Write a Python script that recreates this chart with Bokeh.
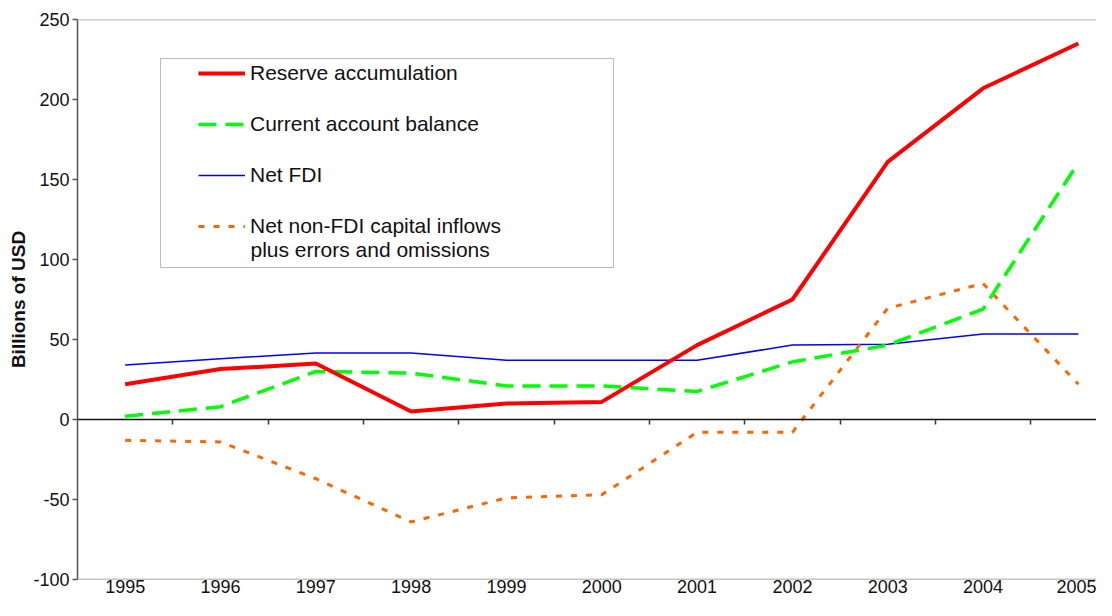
from bokeh.plotting import figure
from bokeh.models import (Range1d, FixedTicker, LinearAxis, Legend, LegendItem,
                          BoxAnnotation, Span, Label)
from bokeh.embed import file_html
from bokeh.resources import INLINE

years = ["1995", "1996", "1997", "1998", "1999", "2000", "2001", "2002", "2003", "2004", "2005"]
reserve_accumulation = [22, 31.5, 35, 5, 10, 11, 46.5, 75, 161, 207, 235]
current_account = [2, 8, 30, 29, 21, 21, 17.5, 36, 46.5, 69, 160.5]
net_fdi = [34, 38, 41.5, 41.5, 37, 37, 37, 46.5, 47, 53.5, 53.5]
net_non_fdi = [-13, -14, -37, -64, -49, -47, -8, -8, 69.5, 85, 22]
y_ticks = [-100, -50, 0, 50, 100, 150, 200, 250]
y_tick_labels = ["-100", "-50", "0", "50", "100", "150", "200", "250"]
series_labels = ["Reserve accumulation", "Current account balance", "Net FDI",
                 "Net non-FDI capital inflows", "plus errors and omissions"]

FONT = "Liberation Sans"
xs = list(range(len(years)))

p = figure(width=1096, height=600, output_backend="svg", toolbar_location=None,
           x_range=Range1d(-0.5, 10.19), y_range=Range1d(y_ticks[0], y_ticks[-1]),
           min_border_left=77, min_border_right=0, min_border_top=19, min_border_bottom=21)
p.xgrid.visible = False
p.ygrid.visible = False
p.outline_line_color = None
p.background_fill_color = "white"
p.border_fill_color = "white"

# top and bottom frame lines
p.add_layout(Span(location=y_ticks[-1], dimension="width", line_color="#9a9a9a", line_width=1.5))
p.add_layout(Span(location=y_ticks[0], dimension="width", line_color="#8a8a8a", line_width=1.5))

# bottom axis: only year labels
xa = p.xaxis[0]
xa.ticker = FixedTicker(ticks=xs)
xa.major_label_overrides = {i: y for i, y in enumerate(years)}
xa.axis_line_color = None
xa.major_tick_line_color = None
xa.major_tick_out = 0
xa.major_tick_in = 0
xa.minor_tick_line_color = None
xa.major_label_standoff = 0
xa.major_label_text_font = FONT
xa.major_label_text_font_size = "18px"
xa.major_label_text_color = "#111111"

# zero line axis with boundary ticks
zero_axis = LinearAxis(fixed_location=0,
                       ticker=FixedTicker(ticks=[i + 0.5 for i in range(len(years))]))
zero_axis.axis_line_color = "#111111"
zero_axis.axis_line_width = 1.5
zero_axis.major_tick_line_color = "#333333"
zero_axis.major_tick_line_width = 1.5
zero_axis.major_tick_in = 0
zero_axis.major_tick_out = 5
zero_axis.minor_tick_line_color = None
zero_axis.major_label_text_color = None
zero_axis.major_label_text_font_size = "0px"
p.add_layout(zero_axis, "below")

# y axis
ya = p.yaxis[0]
ya.ticker = FixedTicker(ticks=y_ticks)
ya.major_label_overrides = {t: s for t, s in zip(y_ticks, y_tick_labels)}
ya.axis_line_color = "#555555"
ya.axis_line_width = 1.5
ya.major_tick_line_color = "#555555"
ya.major_tick_line_width = 1.5
ya.major_tick_in = 0
ya.major_tick_out = 5
ya.minor_tick_line_color = None
ya.major_label_standoff = 3
ya.major_label_text_font = FONT
ya.major_label_text_font_size = "18px"
ya.major_label_text_color = "#111111"
ya.axis_label = "Billions of USD"
ya.axis_label_text_font = FONT
ya.axis_label_text_font_size = "19px"
ya.axis_label_text_font_style = "bold"
ya.axis_label_text_color = "#111111"
ya.axis_label_standoff = 1

r_fdi = p.line(xs, net_fdi, line_color="#0000ff", line_width=1.5)
r_nonfdi = p.line(xs, net_non_fdi, line_color="#ff6600", line_width=3, line_dash="6 9")
r_ca = p.line(xs, current_account, line_color="#00ff00", line_width=3.5, line_dash="18 9")
r_res = p.line(xs, reserve_accumulation, line_color="#ff0000", line_width=4)

box = BoxAnnotation(left=83, right=536, top=521, bottom=312,
                    left_units="screen", right_units="screen",
                    top_units="screen", bottom_units="screen",
                    fill_color="white", fill_alpha=0, line_color="#222222", line_width=1)
p.add_layout(box)

legend = Legend(items=[
    LegendItem(label=series_labels[0], renderers=[r_res]),
    LegendItem(label=series_labels[1], renderers=[r_ca]),
    LegendItem(label=series_labels[2], renderers=[r_fdi]),
    LegendItem(label=series_labels[3], renderers=[r_nonfdi]),
], location=(121, 341), padding=0, margin=0, spacing=27, glyph_width=47, glyph_height=20,
    label_standoff=5, label_text_font=FONT, label_text_font_size="21px", label_text_color="#111111",
    border_line_color=None, background_fill_alpha=0)
p.add_layout(legend)

p.add_layout(Label(x=173, y=330.5, x_units="screen", y_units="screen", text=series_labels[4],
                   text_font=FONT, text_font_size="21px", text_color="#111111",
                   text_baseline="alphabetic", text_align="left"))

open("out.html", "w").write(file_html(p, INLINE))
